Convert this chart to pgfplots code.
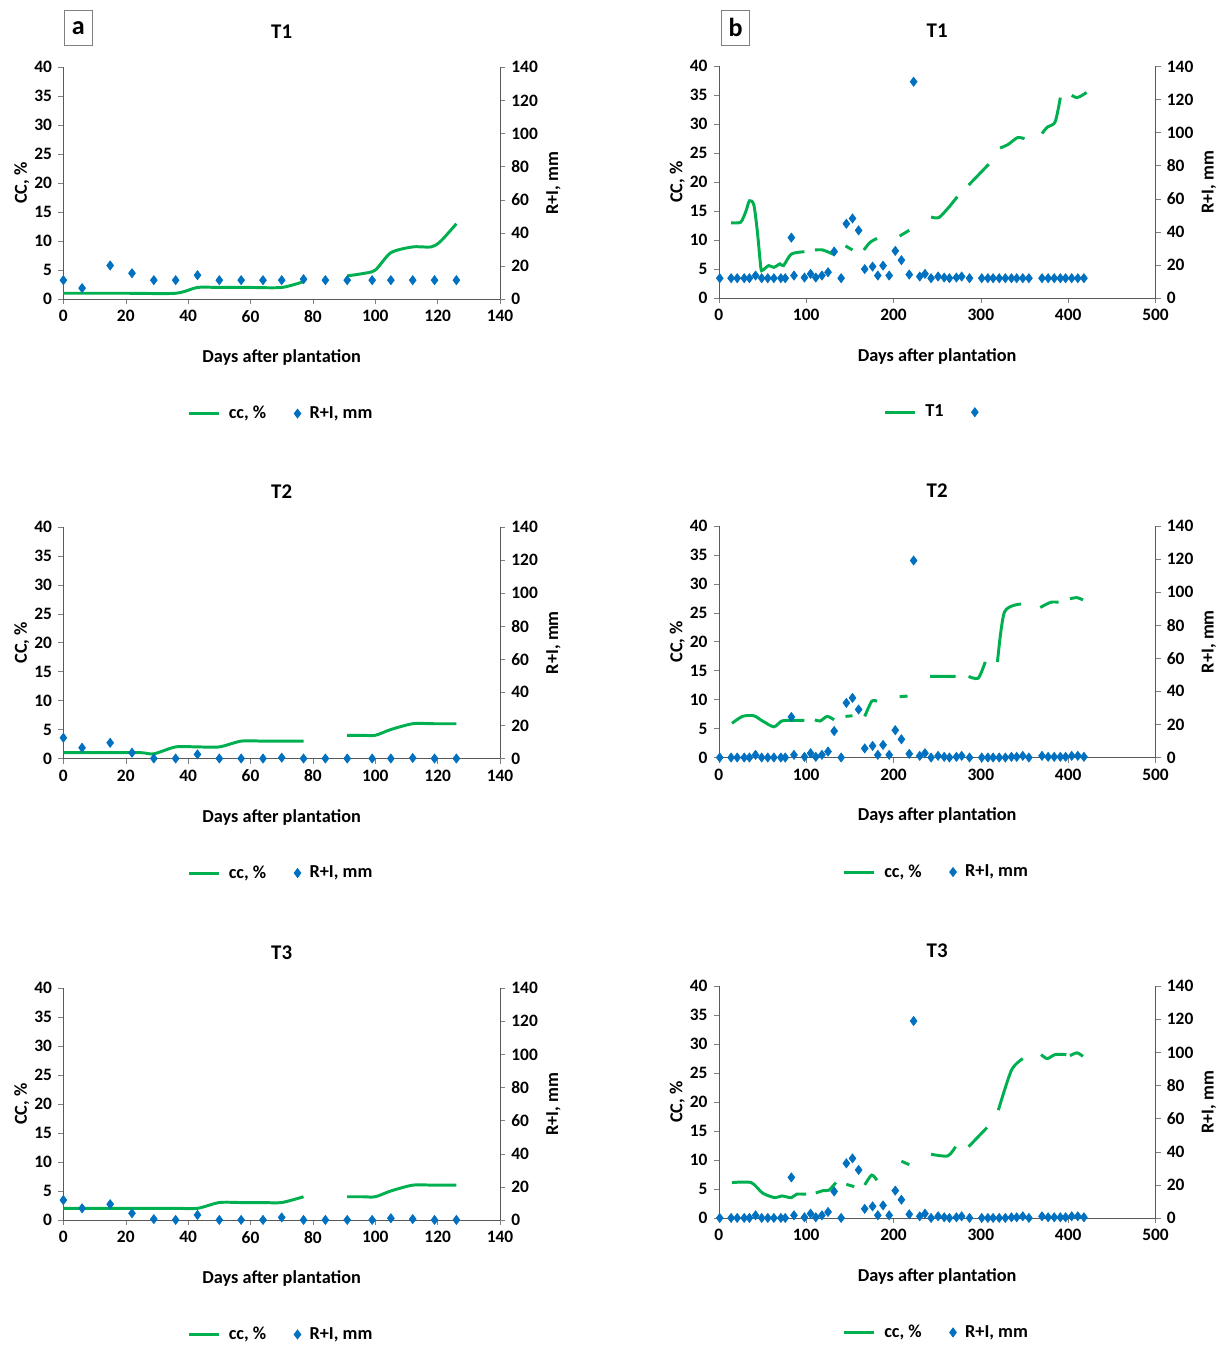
\documentclass[border=0pt]{standalone}
\usepackage{pgfplots}
\pgfplotsset{compat=1.18}
\usepackage{fontspec}
\setmainfont{Carlito}
\definecolor{ccg}{RGB}{0,176,80}
\definecolor{rib}{RGB}{0,112,192}
\newlength{\px}\setlength{\px}{0.02cm}
\pgfplotsset{
 base/.style={scale only axis, width=441\px, height=234\px, ymin=0,
   /pgf/number format/assume math mode=true,
   tick label style={font=\fontsize{10}{12}\selectfont\bfseries},
   label style={font=\fontsize{10.5}{12}\selectfont\bfseries},
   tick align=outside, major tick length=3pt, axis line style={gray!70!black},
   unbounded coords=jump},
 ccst/.style={ccg, line width=1.7pt, smooth, tension=0.45, no marks},
 rist/.style={only marks, mark=diamond*, mark size=2.6pt, rib, mark options={draw=rib,fill=rib}},
}
\newcommand{\panel}[9]{%
\begin{axis}[base, at={(#1\px,-#2\px)}, anchor=south west, xmin=0, xmax=#3, xtick distance=#4,
  ymax=40, ytick distance=5, axis y line*=left, axis x line*=bottom, x axis line style={-}, y axis line style={-},
  xlabel={Days after plantation}, xlabel style={yshift=-9pt}, ylabel={CC, \%}, ylabel style={yshift=-4pt},
  title={\fontsize{12}{14}\selectfont\bfseries #5}, title style={yshift=7pt}]
\addplot[ccst] coordinates {#6};
\end{axis}
\begin{axis}[base, at={(#1\px,-#2\px)}, anchor=south west, xmin=0, xmax=#3, ymax=140, ytick distance=20,
  axis y line*=right, axis x line=none, y axis line style={-}, ylabel={R+I, mm}, ylabel style={yshift=2pt},
  legend style={at={(0.5,-0.43)}, anchor=north, draw=none, font=\fontsize{10.5}{12}\selectfont\bfseries, legend columns=2,
    /tikz/every even column/.append style={column sep=14pt}, /tikz/every odd column/.append style={column sep=3pt}}, legend cell align=left]
\addlegendimage{ccg, line width=1.7pt}
\addlegendentry{#8}
\addplot[rist] coordinates {#7};
\addlegendentry{#9}
\end{axis}}
\def\riA{(0,11.4)(6,6.6)(15,20.3)(22,15.6)(29,11.4)(36,11.4)(43,14.4)(50,11.4)(57,11.4)(64,11.4)(70,11.4)(77,12)(84,11.4)(91,11.4)(99,11.4)(105,11.4)(112,11.4)(119,11.4)(126,11.4)}
\def\riB{(0,12.5)(6,6.5)(15,9.5)(22,3.5)(29,0)(36,0)(43,2.5)(50,0)(57,0)(64,0)(70,0.5)(77,0)(84,0)(91,0)(99,0)(105,0)(112,0.3)(119,0)(126,0)}
\def\riC{(0,12)(6,7)(15,9.5)(22,4)(29,0.5)(36,0)(43,3)(50,0)(57,0)(64,0)(70,1.5)(77,0)(84,0)(91,0)(99,0)(105,1)(112,0.5)(119,0)(126,0)}
\def\riD{(1,12)(14,12)(21,12)(29,12)(35,12)(42,13.6)(49,12)(56,12)(63,12)(71,12)(76,12)(83,36.5)(86,13.6)(98,12.4)(105,14.6)(111,12.4)(118,13.6)(125,15.6)(132,28.1)(140,12)(146,44.9)(153,48.1)(160,40.9)(167,17.5)(176,19)(182,13.6)(188,19.6)(195,13.6)(202,28.5)(209,22.9)(218,14.2)(223,130.7)(230,13)(236,14.6)(243,12)(251,13)(258,12.4)(264,12)(272,12.4)(278,13)(287,12)(301,12)(308,12)(314,12)(321,12)(328,12)(335,12)(341,12)(348,12)(355,12)(370,12)(377,12)(384,12)(391,12)(397,12)(404,12)(411,12)(418,12)}
\def\riE{(1,0)(14,0)(21,0)(29,0)(35,0)(42,1.6)(49,0)(56,0)(63,0)(71,0)(76,0)(83,24.5)(86,1.6)(98,0.4)(105,2.6)(111,0.4)(118,1.6)(125,3.6)(132,16)(140,0)(146,33)(153,36)(160,29)(167,5.5)(176,7)(182,1.6)(188,7.6)(195,1.6)(202,16.5)(209,11)(218,2.2)(223,119)(230,1)(236,2.6)(243,0)(251,1)(258,0.4)(264,0)(272,0.4)(278,1)(287,0)(301,0)(308,0)(314,0)(321,0)(328,0)(335,0.4)(341,0.4)(348,1)(355,0)(370,1)(377,0.4)(384,0.4)(391,0.4)(397,0.4)(404,1)(411,1)(418,0.4)}
\begin{document}
\begin{tikzpicture}
\path (0,0) rectangle (1242\px,-1349\px);
\node[draw=gray, minimum width=28\px, minimum height=36\px, inner sep=0, font=\fontsize{15}{16}\selectfont\bfseries] at (79\px,-28\px) {a};
\node[draw=gray, minimum width=28\px, minimum height=36\px, inner sep=0, font=\fontsize{15}{16}\selectfont\bfseries] at (743\px,-28\px) {b};
\panel{64}{302}{140}{20}{T1}{(0,1)(20,1)(36,1)(43,2)(50,2)(60,2)(70,2)(77,3) (84,nan) (91,4)(96,4.4)(100,5)(105,8)(112,9)(118,9)(121,10)(126,13)}{\riA}{cc, \%}{R+I, mm}
\panel{64}{766}{140}{20}{T2}{(0,1)(15,1)(25,1)(29,0.8)(36,2)(43,2)(50,2)(57,3)(64,3)(70,3)(77,3) (84,nan) (91,4)(96,4)(100,4)(105,5)(112,6)(119,6)(126,6)}{\riB}{cc, \%}{R+I, mm}
\panel{64}{1232}{140}{20}{T3}{(0,2)(20,2)(36,2)(43,2)(50,3)(57,3)(64,3)(70,3)(77,4) (84,nan) (91,4)(96,4)(100,4)(105,5)(112,6)(119,6)(126,6)}{\riC}{cc, \%}{R+I, mm}
\panel{726}{301}{500}{100}{T1}{(14,13)(25,13.1)(31,15)(35,16.8)(40,16.1)(44,11.6)(48,5.3)(50,4.8)(57,5.6)(63,5.3)(70,5.9)(74,5.6)(83,7.6)(98,8) (104,nan)
 (110,8.3)(119,8.3)(132,7.5) (139,nan) (145,9)(153,8.3) (160,nan) (166,8.3)(173,9.6)(181,10.3) (194,nan) (207,10.7)(218,11.7) (230,nan)
 (243,14)(252,13.9)(264,15.8)(273,17.5) (280,nan) (286,19.5)(309,23.1) (315,nan) (322,25.9)(331,26.5)(342,27.7)(350,27.5) (360,nan)
 (370,28.4)(376,29.5)(385,30.4)(391,34.6) (398,nan) (404,35)(410,34.6)(416,35)(421,35.5)}{\riD}{T1}{}
\panel{726}{765}{500}{100}{T2}{(15,5.9)(27,7.1)(40,7.2)(50,6.3)(63,5.3)(72,6.3)(83,6.4)(98,6.4) (104,nan)
 (110,6.5)(116,6.3)(124,7.1)(132,6.5) (139,nan) (145,7.1)(153,7.2) (160,nan) (167,7.1)(175,9.7)(181,9.7) (194,nan) (207,10.5)(216,10.6) (230,nan)
 (242,14)(271,14) (278,nan) (286,14)(297,13.7)(305,16.5) (312,nan) (319,16.5)(327,25.1)(346,26.5) (357,nan)
 (368,25.9)(380,26.8)(389,26.8) (395,nan) (402,27.4)(410,27.6)(417,27.2)}{\riE}{cc, \%}{R+I, mm}
\panel{726}{1230}{500}{100}{T3}{(15,6.1)(37,6.1)(50,4.3)(64,3.5)(72,3.8)(83,3.5)(89,4.1)(100,4.1) (105,nan)
 (111,4.3)(119,4.7)(126,4.8)(134,6.1) (140,nan) (146,5.8)(155,5.4) (161,nan) (167,5.7)(175,7.4)(181,6.5) (195,nan) (209,9.8)(218,9.2) (230,nan)
 (243,11)(262,10.7)(271,12.3) (278,nan) (286,12.3)(307,15.6) (313,nan) (320,18.6)(335,25.5)(348,27.5) (358,nan)
 (369,28.2)(376,27.5)(385,28.2)(398,28.2) (400,nan) (402,28)(410,28.5)(417,27.9)}{\riE}{cc, \%}{R+I, mm}
\end{tikzpicture}
\end{document}
